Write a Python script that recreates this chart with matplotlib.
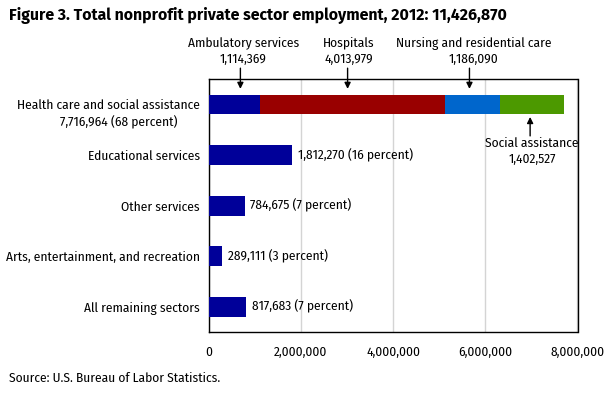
import matplotlib
matplotlib.use("Agg")
import matplotlib.pyplot as plt
from matplotlib.ticker import FuncFormatter
from matplotlib.transforms import offset_copy

plt.rcParams['font.family'] = ['Fira Sans Condensed', 'DejaVu Sans']

# ---- data ----
categories = ["Health care and social assistance", "Educational services",
              "Other services", "Arts, entertainment, and recreation",
              "All remaining sectors"]
totals = [7716964, 1812270, 784675, 289111, 817683]
percents = [68, 16, 7, 3, 7]
health_parts = ["Ambulatory services", "Hospitals",
                "Nursing and residential care", "Social assistance"]
health_values = [1114369, 4013979, 1186090, 1402527]
health_colors = ["#000099", "#990000", "#0066cc", "#4c9900"]
title = "Figure 3. Total nonprofit private sector employment, 2012: 11,426,870"
source = "Source: U.S. Bureau of Labor Statistics."
xticks = [0, 2000000, 4000000, 6000000, 8000000]

# small horizontal nudges (pixels) of the callouts from their segment centres
arrow_nudge_px = [6, -5, -3, -2]
label_nudge_px = [9, -4, 1.5, 0]

FS = 9.6
W, H = 613, 395
fig = plt.figure(figsize=(W / 100, H / 100), dpi=100)
ax = fig.add_axes([208.7 / W, (H - 332) / H, (577.5 - 208.7) / W, (332 - 79.3) / H])

ypos = list(range(len(categories)))
bar_h = 0.39

# stacked health bar
left = 0
mids = []
for v, c in zip(health_values, health_colors):
    ax.barh(0, v, left=left, height=bar_h, color=c, zorder=3)
    mids.append(left + v / 2)
    left += v

# other bars
for y, v, p in zip(ypos[1:], totals[1:], percents[1:]):
    ax.barh(y, v, height=bar_h, color="#000099", zorder=3)
    ax.annotate(f"{v:,} ({p} percent)", xy=(v, y), xytext=(4, 0),
                textcoords="offset points", va="center", ha="left",
                fontsize=FS)

ax.set_xlim(0, 8000000)
ax.set_ylim(len(categories) - 0.5, -0.5)
ax.set_xticks(xticks)
ax.xaxis.set_major_formatter(FuncFormatter(lambda x, _: f"{int(x):,}"))
ax.set_yticks(ypos)
ax.set_yticklabels(categories)
ax.tick_params(axis="both", length=0, labelsize=FS)
ax.tick_params(axis="x", pad=10)
ax.tick_params(axis="y", pad=6.5)
ax.grid(axis="x", color="#d4d4d4", lw=1, zorder=0)
ax.set_axisbelow(True)
for s in ax.spines.values():
    s.set_color("black")
    s.set_linewidth(1)

# second line of the health label
ax.annotate(f"{totals[0]:,} ({percents[0]} percent)", xy=(0, 0), xycoords="data",
            xytext=(-65, -12.5), textcoords="offset points",
            ha="center", va="center", fontsize=FS, annotation_clip=False)

arrow = dict(arrowstyle="-|>", color="black", lw=1, mutation_scale=9,
             shrinkA=0, shrinkB=0)
# arrow tip / tail and label centre, in data y units
tips = [-0.31, -0.31, -0.31, 0.245]
tails = [-0.72, -0.72, -0.72, 0.62]
label_y = [-1.06, -1.06, -1.06, 0.93]

for i in range(4):
    m = mids[i]
    tr_a = offset_copy(ax.transData, fig=fig, x=arrow_nudge_px[i], y=0, units="dots")
    tr_l = offset_copy(ax.transData, fig=fig, x=label_nudge_px[i], y=0, units="dots")
    ax.annotate("", xy=(m, tips[i]), xycoords=tr_a,
                xytext=(m, tails[i]), textcoords=tr_a,
                arrowprops=arrow, annotation_clip=False)
    ax.text(m, label_y[i], f"{health_parts[i]}\n{health_values[i]:,}",
            transform=tr_l, ha="center", va="center", fontsize=FS,
            linespacing=1.35, clip_on=False)

# title, sized to span the same width as the reference
t = fig.text(8.6 / W, 1 - 15 / H, title, ha="left", va="center",
             fontsize=10, fontweight="bold", family=["Fira Sans", "DejaVu Sans"])
fig.canvas.draw()
w = t.get_window_extent(fig.canvas.get_renderer()).width
t.set_fontsize(10 * 498 / w)
fig.text(8.6 / W, 1 - 378 / H, source, ha="left", va="center", fontsize=FS)

fig.savefig("out.png", dpi=100)
